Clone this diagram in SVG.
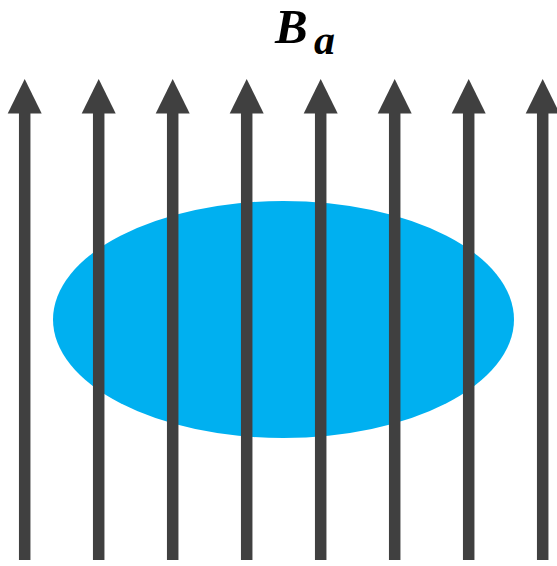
<svg xmlns="http://www.w3.org/2000/svg" width="557" height="566" viewBox="0 0 557 566">
<style>
.shaft{stroke:#404040;stroke-width:11.5;fill:none}
.head{fill:#404040}
.lbl{font-family:"Liberation Serif",serif;font-weight:bold;font-style:italic;fill:#000}
</style>
<defs>
<g id="arrow">
<line class="shaft" x1="0" y1="560" x2="0" y2="110"/>
<polygon class="head" points="0,79 17,113.5 -17,113.5"/>
</g>
</defs>
<g id="ellipse"><ellipse cx="283.5" cy="319.5" rx="230.5" ry="118.5" fill="#00B0F0"/></g>
<g id="connectors">
<use href="#arrow" x="24.7"/>
<use href="#arrow" x="98.7"/>
<use href="#arrow" x="172.7"/>
<use href="#arrow" x="246.7"/>
<use href="#arrow" x="320.7"/>
<use href="#arrow" x="394.7"/>
<use href="#arrow" x="468.7"/>
<use href="#arrow" x="542.7"/>
</g>
<g id="label">
<text class="lbl" x="275" y="43" font-size="49">B<tspan font-size="42" x="314" y="54">a</tspan></text>
</g>
</svg>
